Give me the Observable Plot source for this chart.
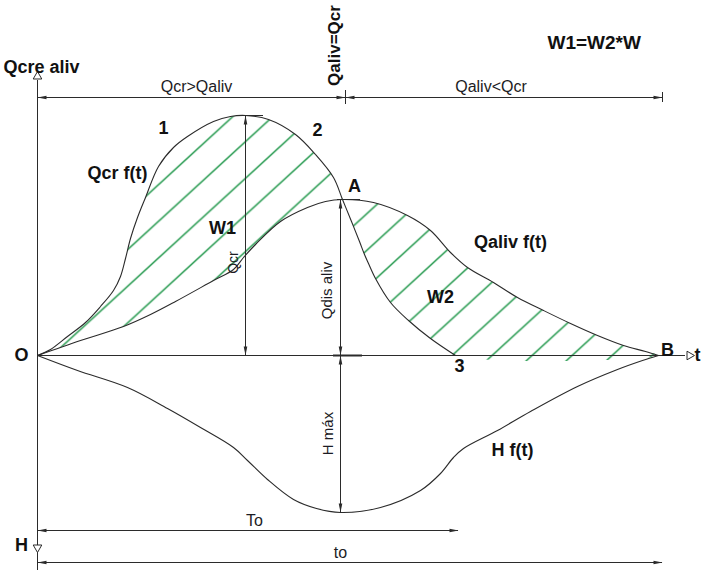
<!DOCTYPE html>
<html>
<head>
<meta charset="utf-8">
<script src="https://cdn.jsdelivr.net/npm/d3@7"></script>
<script src="https://cdn.jsdelivr.net/npm/@observablehq/plot@0.6"></script>
<style>
  body { margin: 0; background: #fff; }
  #chart svg { display: block; }
</style>
</head>
<body>
<div id="chart"></div>
<script>
// Inflow hydrograph Qcr(t), spillway outflow Qaliv(t) and reservoir level H(t)
// t measured from O, discharge plotted above the t axis, H plotted below it.
const qcrT   = [0, 13, 30, 48, 63, 76, 83, 88, 93, 100, 108, 121, 136, 150, 176, 193, 208, 231, 258, 278, 296, 305, 314, 322, 327, 331, 338, 353, 371, 393, 418];
const qcrQ   = [0, 6, 19, 33, 49, 65, 79, 97, 117, 138, 158, 189, 208, 219, 234, 239, 240, 236, 221, 201, 178, 156, 134, 114, 101, 92, 77, 53, 35, 17, 0];

const qalivT = [0, 43, 86, 113, 138, 176, 196, 206, 218, 243, 270, 288, 305, 336, 370, 393, 413, 430, 456, 480, 506, 533, 560, 586, 608, 621];
const qalivQ = [0, 15, 29, 41, 54, 75, 86, 98, 111, 134, 148, 154, 156, 153, 140, 125, 103, 88, 73, 58, 45, 32, 20, 10, 4, 0];

const levelT = [0, 40, 90, 130, 163, 196, 210, 230, 256, 279, 303, 343, 383, 403, 416, 426, 460, 493, 540, 580, 605, 621];
const levelH = [0, 15, 32, 53, 72, 92, 105, 124, 144, 153, 157, 152, 135, 118, 102, 93, 75, 56, 31, 14, 5, 0];

const qcr   = qcrT.map((t, i) => ({t, q: qcrQ[i]}));
const qaliv = qalivT.map((t, i) => ({t, q: qalivQ[i]}));
const level = levelT.map((t, i) => ({t, q: -levelH[i]}));

// characteristic points
const peak = qcr[d3.maxIndex(qcr, d => d.q)];            // Qcr max
const A    = qaliv[d3.maxIndex(qaliv, d => d.q)];        // Qaliv max = Qaliv=Qcr
const P3   = qcr[qcr.length - 1];                        // end of inflow
const B    = qaliv[qaliv.length - 1];                    // end of outflow
const hMin = level[d3.minIndex(level, d => d.q)];        // H max
const tArrow = hMin.t;

// stored (W1) and released (W2) volumes
const w1 = qcr.filter(d => d.t <= A.t).concat(qaliv.filter(d => d.t <= A.t).reverse());
const w2 = qaliv.filter(d => d.t >= A.t).concat(qcr.filter(d => d.t >= A.t).reverse());

const ink = "#2b2b2b";
const green = "#22984c";
const dimTop = 258, dimTo = -175, dimto = -207;
const tCross = A.t + 3, tEnd = B.t + 4, tTo = P3.t + 3;

const heads = [
  {t: 0, q: dimTop, r: 270}, {t: tCross, q: dimTop, r: 90},
  {t: tCross, q: dimTop, r: 270}, {t: tEnd, q: dimTop, r: 90},
  {t: peak.t, q: peak.q, r: 0}, {t: peak.t, q: 0, r: 180},
  {t: tArrow, q: A.q, r: 0}, {t: tArrow, q: 0, r: 180},
  {t: tArrow, q: 0, r: 0}, {t: tArrow, q: hMin.q, r: 180},
  {t: 0, q: dimTo, r: 270}, {t: tTo, q: dimTo, r: 90},
  {t: 0, q: dimto, r: 270}, {t: tEnd, q: dimto, r: 90}
];
const openHeads = [
  {t: 0, q: 279, r: 0},
  {t: 652, q: 0, r: 90},
  {t: 0, q: -192, r: 180}
];

const bold = {fontWeight: "bold", fontSize: 18, fill: "#111"};
const plain = {fontSize: 15, fill: "#1c1c24"};

const chart = Plot.plot({
  width: 701,
  height: 570,
  margin: 0,
  x: {domain: [-37, 664], axis: null},
  y: {domain: [-215, 355], axis: null},
  style: {fontFamily: "'Liberation Sans', Arial, sans-serif", background: "#fff", overflow: "visible"},
  marks: [
    // hatched volumes
    Plot.line(w1, {x: "t", y: "q", curve: "catmull-rom", fill: "url(#hatch)", stroke: "none"}),
    Plot.line(w2, {x: "t", y: "q", curve: "catmull-rom", fill: "url(#hatch)", stroke: "none"}),

    // axes
    Plot.ruleX([0], {y1: -215, y2: 275, stroke: ink}),
    Plot.ruleY([0], {x1: 0, x2: 648, stroke: ink}),
    Plot.ruleY([0], {x1: tArrow - 7, x2: tArrow + 22, stroke: ink, strokeWidth: 2}),

    // curves
    Plot.line(qcr, {x: "t", y: "q", curve: "catmull-rom", stroke: ink, strokeWidth: 1.1}),
    Plot.line(qaliv, {x: "t", y: "q", curve: "catmull-rom", stroke: ink, strokeWidth: 1.1}),
    Plot.line(level, {x: "t", y: "q", curve: "catmull-rom", stroke: ink, strokeWidth: 1.1}),

    // dimension lines
    Plot.ruleX([peak.t], {y1: 0, y2: peak.q, stroke: ink}),
    Plot.ruleY([peak.q], {x1: peak.t - 2, x2: peak.t + 18, stroke: ink}),
    Plot.ruleX([tArrow], {y1: hMin.q, y2: A.q, stroke: ink}),
    Plot.ruleY([A.q], {x1: tArrow - 3, x2: tArrow + 20, stroke: ink}),
    Plot.ruleY([dimTop], {x1: 0, x2: tEnd, stroke: ink}),
    Plot.ruleX([tCross], {y1: dimTop - 7, y2: dimTop + 7, stroke: ink}),
    Plot.ruleX([tEnd], {y1: dimTop - 5, y2: dimTop + 5, stroke: ink}),
    Plot.ruleY([dimTo], {x1: 0, x2: tTo, stroke: ink}),
    Plot.ruleY([dimto], {x1: 0, x2: tEnd, stroke: ink}),
    Plot.vector(heads, {x: "t", y: "q", rotate: "r", length: 9, r: 1.8, shape: "spike", anchor: "end", fill: ink, stroke: "none"}),
    Plot.dot(openHeads, {x: "t", y: "q", rotate: "r", symbol: "triangle", r: 3.2, fill: "#fff", stroke: ink, strokeWidth: 1}),

    // bold labels
    Plot.text(["Qcre aliv"], {x: -34, y: 288, textAnchor: "start", ...bold}),
    Plot.text(["W1=W2*W"], {x: 510, y: 313, textAnchor: "start", ...bold, fontSize: 19}),
    Plot.text(["Qaliv=Qcr"], {x: 297, y: 310, rotate: -90, ...bold, fontSize: 17}),
    Plot.text(["1"], {x: 126, y: 227, ...bold}),
    Plot.text(["2"], {x: 280, y: 225, ...bold}),
    Plot.text(["Qcr f(t)"], {x: 80, y: 182, ...bold}),
    Plot.text(["W1"], {x: 185, y: 127, ...bold}),
    Plot.text(["A"], {x: A.t + 12, y: A.q + 13, ...bold}),
    Plot.text(["Qaliv f(t)"], {x: 473, y: 113, ...bold}),
    Plot.text(["W2"], {x: 403, y: 58, ...bold}),
    Plot.text(["3"], {x: P3.t + 4, y: -11, ...bold}),
    Plot.text(["B"], {x: B.t + 9, y: 5, ...bold}),
    Plot.text(["t"], {x: 660, y: 0, ...bold}),
    Plot.text(["O"], {x: -16, y: 0, ...bold}),
    Plot.text(["H f(t)"], {x: 475, y: -95, ...bold}),
    Plot.text(["H"], {x: -16, y: -190, ...bold}),

    // dimension labels
    Plot.text(["Qcr>Qaliv"], {x: tCross / 2 + 5, y: dimTop + 11, ...plain, fontSize: 16}),
    Plot.text(["Qaliv<Qcr"], {x: (tCross + tEnd) / 2 - 13, y: dimTop + 11, ...plain, fontSize: 16}),
    Plot.text(["Qcr"], {x: peak.t - 12, y: 93, rotate: -90, ...plain, fontSize: 14}),
    Plot.text(["Qdis aliv"], {x: tArrow - 13, y: 65, rotate: -90, ...plain}),
    Plot.text(["H máx"], {x: tArrow - 12, y: -78, rotate: -90, ...plain}),
    Plot.text(["To"], {x: 217, y: dimTo + 10, ...plain, fontSize: 16}),
    Plot.text(["to"], {x: tArrow, y: dimto + 10, ...plain, fontSize: 16})
  ]
});

// diagonal hatch pattern used by the W1 / W2 fills
const ns = "http://www.w3.org/2000/svg";
const tileW = 40, angle = 42.5 * Math.PI / 180;
const tileH = tileW * Math.tan(angle), cot = 1 / Math.tan(angle);
const segs = [0, tileW, 2 * tileW].map(c =>
  `M${c - (tileH + 2) * cot},${tileH + 2}L${c + 2 * cot},-2`).join("");
const defs = document.createElementNS(ns, "defs");
const pattern = document.createElementNS(ns, "pattern");
pattern.setAttribute("id", "hatch");
pattern.setAttribute("patternUnits", "userSpaceOnUse");
pattern.setAttribute("x", 39);
pattern.setAttribute("y", 0);
pattern.setAttribute("width", tileW);
pattern.setAttribute("height", tileH);
const path = document.createElementNS(ns, "path");
path.setAttribute("d", segs);
path.setAttribute("stroke", green);
path.setAttribute("stroke-width", 1.5);
path.setAttribute("fill", "none");
pattern.appendChild(path);
defs.appendChild(pattern);
chart.insertBefore(defs, chart.firstChild);

document.getElementById("chart").appendChild(chart);
</script>
</body>
</html>
